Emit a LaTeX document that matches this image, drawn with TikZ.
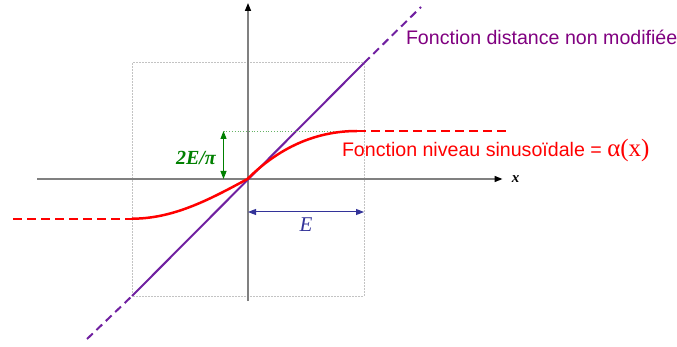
\documentclass[tikz,border=0pt]{standalone}
\usepackage{fontspec}
\setmainfont{Liberation Sans}
\newfontfamily\tms{Liberation Serif}
\usetikzlibrary{arrows.meta}
\definecolor{txtpurp}{RGB}{128,0,128}
\definecolor{linepurp}{RGB}{112,32,160}
\definecolor{axisgray}{RGB}{128,128,128}
\definecolor{boxgray}{RGB}{195,195,195}
\definecolor{darkgreen}{RGB}{0,128,0}
\definecolor{navy}{RGB}{51,51,153}
\tikzset{
  axisline/.style={draw=axisgray, line width=1.5pt, -{Triangle[length=8pt,width=6pt,color=black]}},
  boxline/.style={draw=boxgray, line width=1pt, dash pattern=on 2pt off 1pt},
  purpline/.style={draw=linepurp, line width=2pt},
  purpdash/.style={draw=linepurp, line width=2pt, dash pattern=on 8pt off 5pt},
  redcurve/.style={draw=red, line width=2.5pt},
  reddash/.style={draw=red, line width=2pt, dash pattern=on 9pt off 5pt},
  greendot/.style={draw=darkgreen!60, line width=0.8pt, dotted},
  greenarrow/.style={draw=darkgreen, line width=1pt, {Triangle[length=8pt,width=6pt]}-{Triangle[length=8pt,width=6pt]}},
  bluearrow/.style={draw=navy, line width=1pt, {Triangle[length=8pt,width=6pt]}-{Triangle[length=8pt,width=6pt]}},
  lbl/.style={inner sep=0pt, outer sep=0pt}
}
\begin{document}
\begin{tikzpicture}[x=1pt,y=-1pt]
\useasboundingbox (0,0) rectangle (677,347);
% key points
\coordinate (O) at (247.5,179);
\coordinate (BL) at (132,296);
\coordinate (TR) at (364,63);
\coordinate (PurpLow) at (87,339);
\coordinate (PurpHigh) at (421,7);
\coordinate (Xstart) at (37,179);
\coordinate (Xend) at (502.5,179);
\coordinate (Ystart) at (248,301);
\coordinate (Yend) at (248,3);
\coordinate (Lend) at (132,218.7);
\coordinate (Lfar) at (13,218.7);
\coordinate (Rend) at (357,131);
\coordinate (Rfar) at (507,131);
\coordinate (Gtop) at (223.5,131);
\coordinate (Gbot) at (223.5,179);
\coordinate (Bl) at (248,212);
\coordinate (Br) at (364,212);
% box
\draw[boxline] (BL) rectangle (TR);
% axes
\draw[axisline] (Xstart) -- (Xend);
\draw[axisline] (Ystart) -- (Yend);
% purple line
\draw[purpdash] (PurpLow) -- (BL);
\draw[purpline] (BL) -- (TR);
\draw[purpdash] (TR) -- (PurpHigh);
% green dotted level
\draw[greendot] (Gtop) -- (Rend);
% red curve
\draw[redcurve] plot[domain=1:0, samples=40] ({247.5-115.5*\x},{179+39.7*sin(90*\x)})
  .. controls (269.5,157) and (305.5,131) .. (Rend);
\draw[reddash] (Rend) -- (Rfar);
\draw[reddash] (Lfar) -- (Lend);
% green arrow
\draw[greenarrow] (Gtop) -- (Gbot);
% blue arrow
\draw[bluearrow] (Bl) -- (Br);
% labels
\node[lbl, anchor=base west, text=txtpurp, font=\fontsize{19.6}{22}\selectfont] (tdist) at (406,45) {Fonction distance non modifiée};
\node[lbl, anchor=base west, text=red, font=\fontsize{19.6}{22}\selectfont] (tniv) at (342,157) {Fonction niveau sinusoïdale = {\tms\fontsize{25}{27}\selectfont α(x)}};
\node[lbl, text=darkgreen, font=\tms\bfseries\itshape\fontsize{20}{22}\selectfont] (t2e) at (196,158) {2E/π};
\node[lbl, text=navy, font=\tms\itshape\fontsize{21}{23}\selectfont] (te) at (306,225) {E};
\node[lbl, text=black, font=\tms\bfseries\itshape\fontsize{15}{17}\selectfont] (tx) at (515.5,179.5) {x};
\end{tikzpicture}
\end{document}
